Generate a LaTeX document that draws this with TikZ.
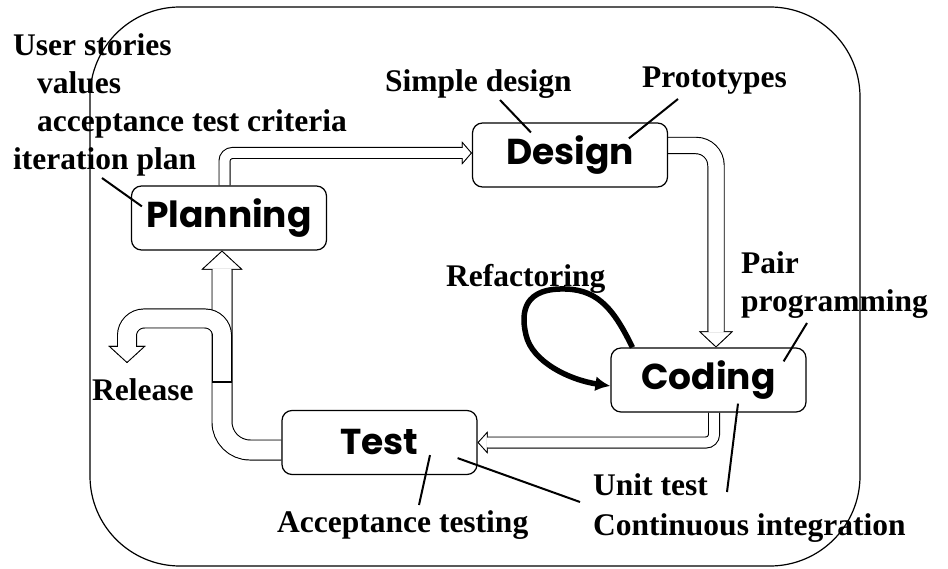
\documentclass[tikz,border=0pt]{standalone}
\usepackage{fontspec}
\setmainfont{Liberation Serif}
\newfontfamily\stagefont{Poppins}
\usetikzlibrary{calc, arrows.meta, backgrounds}

\tikzset{
  stage/.style={draw, line width=1.2pt, rounded corners=10pt, fill=white,
    minimum width=195pt, minimum height=64pt, inner sep=0pt,
    font=\stagefont\bfseries\fontsize{36}{40}\selectfont},
  note/.style={inner sep=0pt, align=left, font=\bfseries\fontsize{31.5}{38}\selectfont},
  pointer/.style={line width=2pt},
  % open block arrow: width, head length, head width, corner radius
  hollow/.style n args={4}{line width=#1, draw=white, rounded corners=#4,
    -{Triangle[length=#2, width=#3, line width=0.8pt, color=black, fill=white]},
    preaction={draw=black, line width=#1+2.4pt},
    postaction={draw=white, arrows=-, line width=#1, shorten >=#2-1pt}}
}

\begin{document}
\begin{tikzpicture}[x=1pt, y=-1pt]
  \useasboundingbox (0,0) rectangle (948,569);

  % the four stages
  \node[stage] (planning) at (229,218) {Planning};
  \node[stage] (design) at (570,155) {Design};
  \node[stage] (coding) at (708.5,380) {Coding};
  \node[stage] (test) at (379.5,442.5) {Test};

  % practices (base = last line)
  \node[note, anchor=base west] (stories) at (13,170)
    {User stories\\\hspace*{24pt}values\\\hspace*{24pt}acceptance test criteria\\iteration plan};
  \node[note, anchor=base west] (simple) at (385,92) {Simple design};
  \node[note, anchor=base west] (proto) at (642,88) {Prototypes};
  \node[note, anchor=base west] (refac) at (446,287) {Refactoring};
  \node[note, anchor=base west] (pair) at (741,312) {Pair\\programming};
  \node[note, anchor=base west] (release) at (92,400) {Release};
  \node[note, anchor=base west] (unit) at (593,535) {Unit test\\[2pt]Continuous integration};
  \node[note, anchor=base west] (accept) at (277,532) {Acceptance testing};

  \coordinate (fork) at (222,382);
  \coordinate (shipped) at (127,363);

  \begin{scope}[on background layer]
    \draw[line width=1.2pt, rounded corners=90pt] (90,7) rectangle (860,566);
    \draw[hollow={9.6pt}{10pt}{23pt}{8pt}] ([xshift=-4.5pt]planning.north) |- ([yshift=2pt]design.west);
    \draw[hollow={15pt}{16pt}{34pt}{20pt}] ([yshift=9.5pt]design.east) -| ([xshift=7.5pt]coding.north);
    \draw[hollow={9.6pt}{10pt}{22pt}{8pt}] ([xshift=5.5pt]coding.south) |- (test.east);
    \draw[hollow={18.6pt}{19pt}{41pt}{28pt}] ([yshift=-7.5pt]test.west) -| ([xshift=-7pt]planning.south);
    \draw[hollow={17.6pt}{17pt}{37pt}{17pt}] (fork) -- ++(0,-63.5) -| (shipped);
    \draw[line width=1.2pt] ([xshift=-10pt]fork) -- ([xshift=10pt]fork);
  \end{scope}

  % refactoring loop
  \draw[line width=5.5pt, -{Latex[length=15pt, width=15pt]}]
    ($(coding.north west)+(22,0)$) .. controls (612,305) and (595,288) .. (560,289)
    .. controls (520,290) and (522,318) .. (526,335)
    .. controls (532,362) and (570,380) .. ($(coding.west)+(0,6)$);

  % pointers from the notes
  \draw[pointer] ($(stories.base west)+(89,8)$) -- ($(planning.north west)+(11,21)$);
  \draw[pointer] ($(simple.base west)+(115,8)$) -- ($(design.north west)+(59,10)$);
  \draw[pointer] ($(proto.base west)+(36,11)$) -- ($(design.north west)+(157,16)$);
  \draw[pointer] ($(pair.base west)+(66,11)$) -- ($(coding.north east)+(-23,14)$);
  \draw[pointer] ($(unit.base west)+(134,-43)$) -- ($(coding.south)+(29.5,-9)$);
  \draw[pointer] ($(unit.base west)+(-13,-33)$) -- ($(test.south east)+(-20,-17)$);
  \draw[pointer] ($(accept.base west)+(142,-27)$) -- ($(test.south)+(50.5,-20)$);
\end{tikzpicture}
\end{document}
